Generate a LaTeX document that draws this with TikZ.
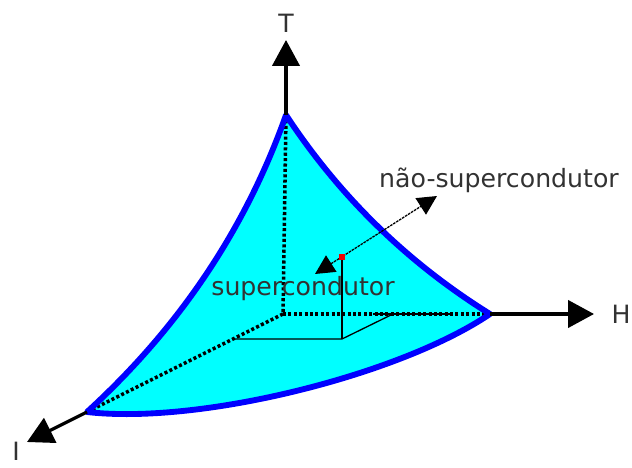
\documentclass[tikz,border=0pt]{standalone}
\usepackage{fontspec}
\setmainfont{DejaVu Sans}
\usetikzlibrary{arrows.meta, positioning, calc}
\definecolor{surfCyan}{RGB}{0, 255, 255}
\definecolor{edgeBlue}{RGB}{0, 0, 255}
\definecolor{labelGray}{RGB}{50, 50, 50}
\definecolor{pointRed}{RGB}{240, 0, 0}

\begin{document}
\begin{tikzpicture}[
    x=0.3mm, y=-0.3mm,
    axis/.style={-{Triangle[length=7.8mm, width=8.2mm]}, line width=2.8pt, black},
    hidden/.style={line width=3pt, dash pattern=on 2.6pt off 2pt, black},
    proj/.style={line width=1.1pt, black},
    edge/.style={line width=5pt, edgeBlue, line join=round},
    probe/.style={{Triangle[length=5.8mm, width=5.8mm]}-{Triangle[length=5.8mm, width=5.8mm]}, line width=1.1pt, dash pattern=on 2.2pt off 0.8pt, black},
    lab/.style={font=\fontsize{21.5}{26}\selectfont, text=labelGray, inner sep=0pt, anchor=base}
]
    \useasboundingbox (0,0) rectangle (632,468);

    % Corner points of the critical surface and the axes
    \coordinate (O) at (283,314);
    \coordinate (Tv) at (286,115);
    \coordinate (Hv) at (490,314);
    \coordinate (Iv) at (87,412);
    \coordinate (Ttip) at (286,40);
    \coordinate (Htip) at (594,314);
    \coordinate (Itip) at (27,442);

    % State point and its projection box
    \coordinate (P) at (342,257);
    \coordinate (Pb) at (342,339);
    \coordinate (Pi) at (233,339);
    \coordinate (Ph) at (393,314);
    \coordinate (Hs1) at (373,314);
    \coordinate (Hs2) at (453,314);
    \coordinate (Pin) at (315,274);
    \coordinate (Pout) at (437,196);

    % Surface
    \fill[surfCyan] (Tv) .. controls (340,197) and (408,263) .. (Hv)
        .. controls (400,375) and (200,425) .. (Iv)
        .. controls (180,327) and (246,228) .. cycle;

    % Hidden axes inside the surface
    \draw[hidden] (Tv) -- (O);
    \draw[hidden] (O) -- (Hv);
    \draw[hidden] (O) -- (Iv);
    \draw[proj, line width=2.4pt] (Hs1) -- (Hs2);

    % Projection of the state point
    \draw[proj] (P) -- (Pb);
    \draw[proj] (Pi) -- (Pb) -- (Ph);

    % Edges of the surface
    \draw[edge] (Tv) .. controls (340,197) and (408,263) .. (Hv)
        .. controls (400,375) and (200,425) .. (Iv)
        .. controls (180,327) and (246,228) .. cycle;

    % Axes
    \draw[axis] (Tv) -- (Ttip);
    \draw[axis] (Hv) -- (Htip);
    \draw[axis] (Iv) -- (Itip);

    % State point and transition arrow
    \draw[probe] (Pin) -- (Pout);
    \node[fill=pointRed, minimum size=2mm, inner sep=0pt] (dot) at (P) {};

    % Labels
    \node[lab] (tlab) at (286,33) {T};
    \node[lab] (hlab) at (621,323) {H};
    \node[lab] (ilab) at (16,460) {I};
    \node[lab] (sclab) at (303,295) {supercondutor};
    \node[lab] (nsclab) at (499,187) {não-supercondutor};
\end{tikzpicture}
\end{document}
